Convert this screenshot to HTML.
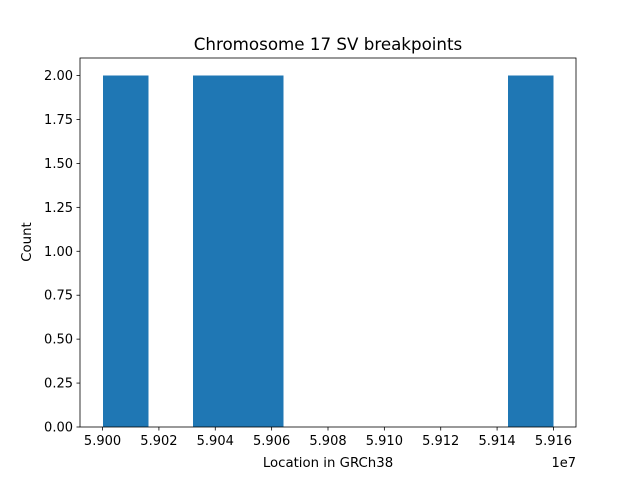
<!DOCTYPE html>
<html><head><meta charset="utf-8"><style>
body{margin:0;background:#fff}
svg text{font-family:"DejaVu Sans","Liberation Sans",sans-serif;fill:#000}
</style></head><body>
<svg id="chart" width="640" height="480" xmlns="http://www.w3.org/2000/svg">
<rect width="640" height="480" fill="#fff"/>
<text x="328" y="50" font-size="16.7" text-anchor="middle">Chromosome 17 SV breakpoints</text>
<g id="bars"></g>
<g id="axes"></g>
<text x="328" y="467" font-size="13.3" text-anchor="middle">Location in GRCh38</text>
<text transform="translate(31,242) rotate(-90)" font-size="13.3" text-anchor="middle">Count</text>
<text x="576" y="467" font-size="13" text-anchor="end">1e7</text>
</svg>
<script>
const binStart = 59000000;
const binEnd = 59160000;
const counts = [2,0,2,2,0,0,0,0,0,2];
const xTickLabels = ["5.900","5.902","5.904","5.906","5.908","5.910","5.912","5.914","5.916"];
const xTickValues = [59000000,59020000,59040000,59060000,59080000,59100000,59120000,59140000,59160000];
const yTickValues = [0,0.25,0.5,0.75,1,1.25,1.5,1.75,2];

const L=80,R=576,T=58,B=427;
const pad=(binEnd-binStart)*0.05;
const xmin=binStart-pad,xmax=binEnd+pad;
const ymax=Math.max(...counts)*1.05;
const xs=v=>L+(v-xmin)/(xmax-xmin)*(R-L);
const ys=v=>B-v/ymax*(B-T);
const NS="http://www.w3.org/2000/svg";
const bars=document.getElementById('bars'),axes=document.getElementById('axes');
const bw=(binEnd-binStart)/counts.length;
counts.forEach((c,i)=>{
  if(c<=0)return;
  const r=document.createElementNS(NS,'rect');
  const x0=Math.round(xs(binStart+i*bw)),x1=Math.round(xs(binStart+(i+1)*bw));
  r.setAttribute('x',x0);r.setAttribute('width',x1-x0+0.6);
  r.setAttribute('y',ys(c));r.setAttribute('height',B-ys(c));
  r.setAttribute('fill','#1f77b4');
  r.setAttribute('shape-rendering','crispEdges');
  
  
  bars.appendChild(r);
});
function el(tag,attrs,parent){const e=document.createElementNS(NS,tag);for(const k in attrs)e.setAttribute(k,attrs[k]);parent.appendChild(e);return e;}
const frame=el('rect',{x:L,y:T,width:R-L,height:B-T,fill:'none',stroke:'#000','stroke-width':0.8},axes);


xTickValues.forEach((v,i)=>{
  const x=xs(v);
  el('line',{x1:x,x2:x,y1:B,y2:B+3.5,stroke:'#000','stroke-width':0.8},axes);
  const t=el('text',{x:x,y:B+18,'font-size':13,'text-anchor':'middle'},axes);
  t.textContent=xTickLabels[i];
  
  
});
yTickValues.forEach(v=>{
  const y=ys(v);
  el('line',{x1:L-3.5,x2:L,y1:y,y2:y,stroke:'#000','stroke-width':0.8},axes);
  const t=el('text',{x:L-7,y:y+4.5,'font-size':13,'text-anchor':'end'},axes);
  t.textContent=v.toFixed(2);
  
  
});
</script>
</body></html>
